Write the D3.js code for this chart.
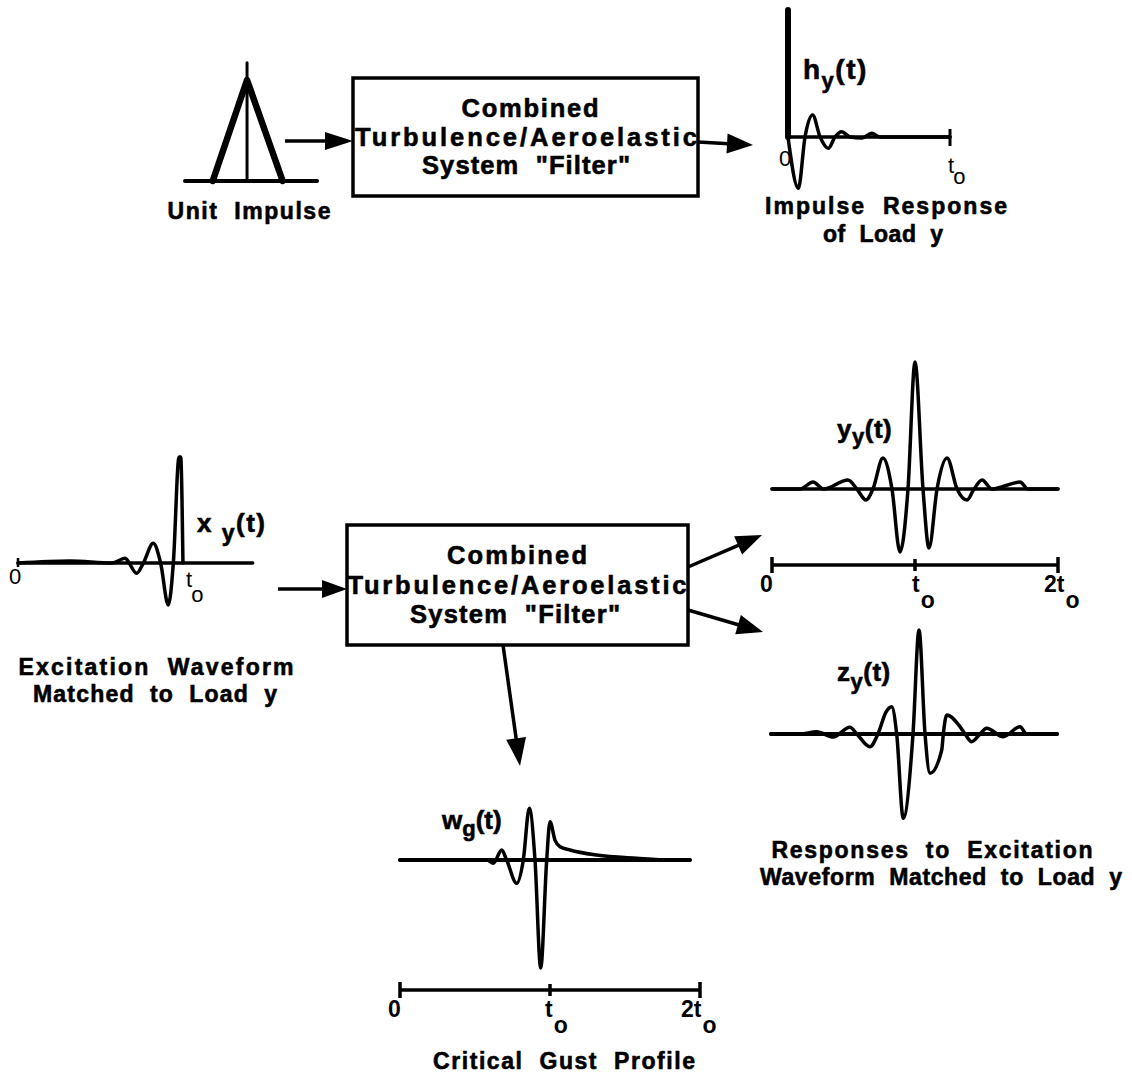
<!DOCTYPE html>
<html><head><meta charset="utf-8">
<script src="https://cdn.jsdelivr.net/npm/d3@7"></script>
<style>
body{margin:0;background:#fff}
svg text{font-family:"Liberation Sans",Arial,Helvetica,sans-serif;fill:#000;white-space:pre}
svg text.heavy{stroke:#000;stroke-width:0.6px}
</style></head><body>
<svg id="c" width="1132" height="1077"></svg>
<script>
// ---------------- DATA ----------------
// unit impulse sketch (t, value)
const impulseTriangle = [[-0.58,0],[-0.06,1],[0.48,0]];
const impulseStem = [[-0.06,0],[-0.06,1.17]];
const impulseBase = [-1,1];

// impulse response h_y(t): t in units of t0, value relative to impulse height
const hySpike = [[0,0],[0,1]];
const hyWave = [[0,0],[0.064,-0.404],[0.105,0],[0.152,0.173],[0.198,0],[0.249,-0.089],[0.29,0],
  [0.331,0.042],[0.383,0],[0.457,-0.008],[0.517,0.029],[0.568,0],[1,0]];
const hyBase = [0,1];

// excitation waveform x_y(t)
const xyWave = [[0,0],[0.319,0.019],[0.577,0],[0.656,0.044],[0.728,-0.097],[0.769,0],[0.83,0.186],
  [0.875,0],[0.922,-0.396],[0.953,0],[0.988,1.0],[0.998,1.0],[1.012,0]];
const xyBase = [0,1.44];

// response y_y(t)
const yyWave = [[0,0],[0.196,0],[0.287,0.055],[0.36,0],[0.531,0.071],[0.594,0],[0.657,-0.087],[0.706,0],
  [0.776,0.244],[0.839,0],[0.895,-0.496],[0.951,0],[1.0,1.0],[1.056,0],[1.098,-0.465],[1.154,0],
  [1.224,0.244],[1.294,0],[1.364,-0.087],[1.413,0],[1.469,0.071],[1.538,0],[1.734,0.055],[1.79,0],[2,0]];
const yyBase = [0,2];

// response z_y(t)
const zyWave = [[0,0],[0.203,0],[0.32,0.022],[0.434,-0.029],[0.552,0.064],[0.6,0],[0.692,-0.122],[0.748,0],
  [0.804,0.21],[0.844,0.263],[0.879,0],[0.925,-0.81],[0.993,0],[1.035,1.0],[1.077,0],[1.112,-0.378],
  [1.194,-0.154],[1.205,0],[1.229,0.183],[1.322,0.07],[1.357,0],[1.403,-0.074],[1.462,0],[1.508,0.055],
  [1.624,-0.026],[1.741,0.07],[1.788,0],[2,0]];
const zyBase = [0,2];

// critical gust profile w_g(t)
const wgWave = [[0,0],[0.58,0],[0.622,-0.031],[0.678,0.093],[0.711,0],[0.778,-0.216],[0.822,0],
  [0.862,0.479],[0.9,0],[0.938,-1.0],[0.978,0],[1.0,0.355],[1.033,0.185],[1.067,0.123],[1.133,0.093],
  [1.311,0.046],[1.578,0.016],[1.8,0],[1.933,0]];
const wgBase = [0,1.933];

// time axes
const timeTicks = [0,1,2];
const timeTickMain = ["0","t","2t"];
const timeTickSub = ["","o","o"];

// texts
const boxLines = ["Combined","Turbulence/Aeroelastic","System  \"Filter\""];
const captions = ["Unit  Impulse","Impulse  Response","of  Load  y","Excitation  Waveform",
  "Matched  to  Load  y","Responses  to  Excitation","Waveform  Matched  to  Load  y","Critical  Gust  Profile"];
const signalNames = [{m:"h",s:"y",r:"(t)"},{m:"x ",s:"y",r:"(t)"},{m:"y",s:"y",r:"(t)"},{m:"z",s:"y",r:"(t)"},{m:"w",s:"g",r:"(t)"}];

// ---------------- LAYOUT ----------------
const svg = d3.select("#c");
const ink = "#000";
const lin = (a,b)=>d3.scaleLinear().domain(a).range(b);

const P = {
  imp: {x: lin([-1,1],[185,317]), y: lin([0,1],[181,80])},
  hy:  {x: lin([0,1],[788,950]),  y: lin([0,1],[137,10])},
  xy:  {x: lin([0,1],[18,181]),   y: lin([0,1],[563,457])},
  yy:  {x: lin([0,2],[772,1058]), y: lin([0,1],[489,362])},
  zy:  {x: lin([0,2],[771,1057]), y: lin([0,1],[734,630])},
  wg:  {x: lin([0,2],[400,700]),  y: lin([0,1],[860,752])}
};

function path(p, data, w, curve){
  const gen = d3.line().x(d=>p.x(d[0])).y(d=>p.y(d[1])).curve(curve||d3.curveLinear);
  svg.append("path").attr("d",gen(data)).attr("fill","none").attr("stroke",ink)
    .attr("stroke-width",w).attr("stroke-linejoin","round").attr("stroke-linecap","round");
}
function baseLine(p, dom, w){ path(p, [[dom[0],0],[dom[1],0]], w||3); }

// unit impulse
baseLine(P.imp, impulseBase, 4);
path(P.imp, impulseStem, 3);
path(P.imp, impulseTriangle, 6.5, d3.curveLinear);

// h_y
baseLine(P.hy, hyBase, 3.5);
path(P.hy, hySpike, 6);
path(P.hy, hyWave, 3.5, d3.curveMonotoneX);
svg.append("line").attr("x1",P.hy.x(1)).attr("x2",P.hy.x(1)).attr("y1",P.hy.y(0)-8).attr("y2",P.hy.y(0)+9)
  .attr("stroke",ink).attr("stroke-width",3);

// x_y
baseLine(P.xy, xyBase, 3.5);
path(P.xy, xyWave, 3.5, d3.curveMonotoneX);
svg.append("line").attr("x1",P.xy.x(0)).attr("x2",P.xy.x(0)).attr("y1",P.xy.y(0)-5).attr("y2",P.xy.y(0)+4)
  .attr("stroke",ink).attr("stroke-width",2.5);

// y_y, z_y, w_g
baseLine(P.yy, yyBase, 3.5);
path(P.yy, yyWave, 3.5, d3.curveMonotoneX);
baseLine(P.zy, zyBase, 4);
path(P.zy, zyWave, 3.5, d3.curveMonotoneX);
baseLine(P.wg, wgBase, 4);
path(P.wg, wgWave, 3.5, d3.curveMonotoneX);

// time axes
function timeAxis(p, yPos, offs, subDy){
  svg.append("line").attr("x1",p.x(timeTicks[0])).attr("x2",p.x(timeTicks[timeTicks.length-1]))
    .attr("y1",yPos).attr("y2",yPos).attr("stroke",ink).attr("stroke-width",3.5);
  timeTicks.forEach((t,i)=>{
    const end = (i===0||i===timeTicks.length-1);
    svg.append("line").attr("x1",p.x(t)).attr("x2",p.x(t))
      .attr("y1",yPos-(end?8:6)).attr("y2",yPos+(end?8:6)).attr("stroke",ink).attr("stroke-width",3.5);
    const tx = svg.append("text").attr("x",p.x(t)+offs[i]).attr("y",yPos+27)
      .attr("font-size",23).attr("font-weight","bold");
    tx.append("tspan").text(timeTickMain[i]);
    if(timeTickSub[i]) tx.append("tspan").attr("dx",1).attr("dy",subDy).text(timeTickSub[i]);
  });
}
timeAxis(P.yy, 565, [-12,-3,-14], 16);
timeAxis(P.wg, 990, [-12,-5,-19], 16);

// small labels on top panels (lighter)
function smallLabel(x,y,main,sub,subDx,subDy){
  const t = svg.append("text").attr("x",x).attr("y",y).attr("font-size",22);
  t.append("tspan").text(main);
  if(sub) t.append("tspan").attr("dx",subDx).attr("dy",subDy).text(sub);
}
smallLabel(P.hy.x(0)-9, P.hy.y(0)+29, "0");
smallLabel(P.hy.x(1)-2, P.hy.y(0)+36, timeTickMain[1], timeTickSub[1], -1, 11);
smallLabel(P.xy.x(0)-9, P.xy.y(0)+21, "0");
smallLabel(P.xy.x(1)+5, P.xy.y(0)+24, timeTickMain[1], timeTickSub[1], -1, 15);

// signal names
const nameLayout = [
  {x:803, y:79,  fs:28, ss:22, dy:9,  ls:1.5},
  {x:197, y:532, fs:26, ss:23, dy:9,  ls:1.5},
  {x:837, y:438, fs:26, ss:22, dy:6,  ls:0.5},
  {x:837, y:681, fs:26, ss:22, dy:8,  ls:0.5},
  {x:442, y:829, fs:26, ss:22, dy:7,  ls:0}
];
signalNames.forEach((n,i)=>{
  const L = nameLayout[i];
  const t = svg.append("text").attr("class","heavy").attr("x",L.x).attr("y",L.y).attr("font-size",L.fs)
    .attr("font-weight","bold").attr("letter-spacing",L.ls);
  t.append("tspan").text(n.m);
  t.append("tspan").attr("dy",L.dy).attr("font-size",L.ss).text(n.s);
  t.append("tspan").attr("dy",-L.dy).text(n.r);
});

// boxes
const boxLayout = [
  {x0:353, x1:698, y0:78, y1:196, lines:[{cx:530,y:117,w:137},{cx:526,y:146,w:342},{cx:526,y:174,w:208}]},
  {x0:347, x1:688, y0:525, y1:645, lines:[{cx:517,y:564,w:140},{cx:517,y:594,w:339},{cx:515,y:623,w:210}]}
];
boxLayout.forEach(b=>{
  svg.append("rect").attr("x",b.x0).attr("y",b.y0).attr("width",b.x1-b.x0).attr("height",b.y1-b.y0)
    .attr("fill","none").attr("stroke",ink).attr("stroke-width",3.5);
  boxLines.forEach((s,i)=>{
    const L=b.lines[i];
    svg.append("text").attr("class","heavy").attr("x",L.cx).attr("y",L.y).attr("text-anchor","middle")
      .attr("font-size",25.5).attr("font-weight","bold")
      .attr("textLength",L.w).attr("lengthAdjust","spacing").text(s);
  });
});

// captions
const capLayout = [
  {cx:249,y:219,w:163},{cx:886,y:214,w:242},{cx:883,y:242,w:120},{cx:156,y:675,w:275},
  {cx:155,y:702,w:244},{cx:932,y:858,w:321},{cx:941,y:885,w:362},{cx:564,y:1069,w:262}
];
captions.forEach((s,i)=>{
  const L=capLayout[i];
  svg.append("text").attr("class","heavy").attr("x",L.cx).attr("y",L.y).attr("text-anchor","middle")
    .attr("font-size",23).attr("font-weight","bold")
    .attr("textLength",L.w).attr("lengthAdjust","spacing").text(s);
});

// arrows
function arrow(x1,y1,x2,y2,len,hw){
  const a=Math.atan2(y2-y1,x2-x1), c=Math.cos(a), s=Math.sin(a);
  const bx=x2-len*c, by=y2-len*s;
  svg.append("line").attr("x1",x1).attr("y1",y1).attr("x2",bx+2*c).attr("y2",by+2*s)
    .attr("stroke",ink).attr("stroke-width",3.5);
  svg.append("path").attr("d",`M${x2},${y2}L${bx-hw*s},${by+hw*c}L${bx+hw*s},${by-hw*c}Z`).attr("fill",ink);
}
arrow(285,141,353,141,28,9);
arrow(698,142,753,145,26,10);
arrow(278,589,347,589,25,9);
arrow(688,567,762,535,26,10);
arrow(688,610,763,632,26,10);
arrow(503,645,520,766,28,10);
</script>
</body></html>
